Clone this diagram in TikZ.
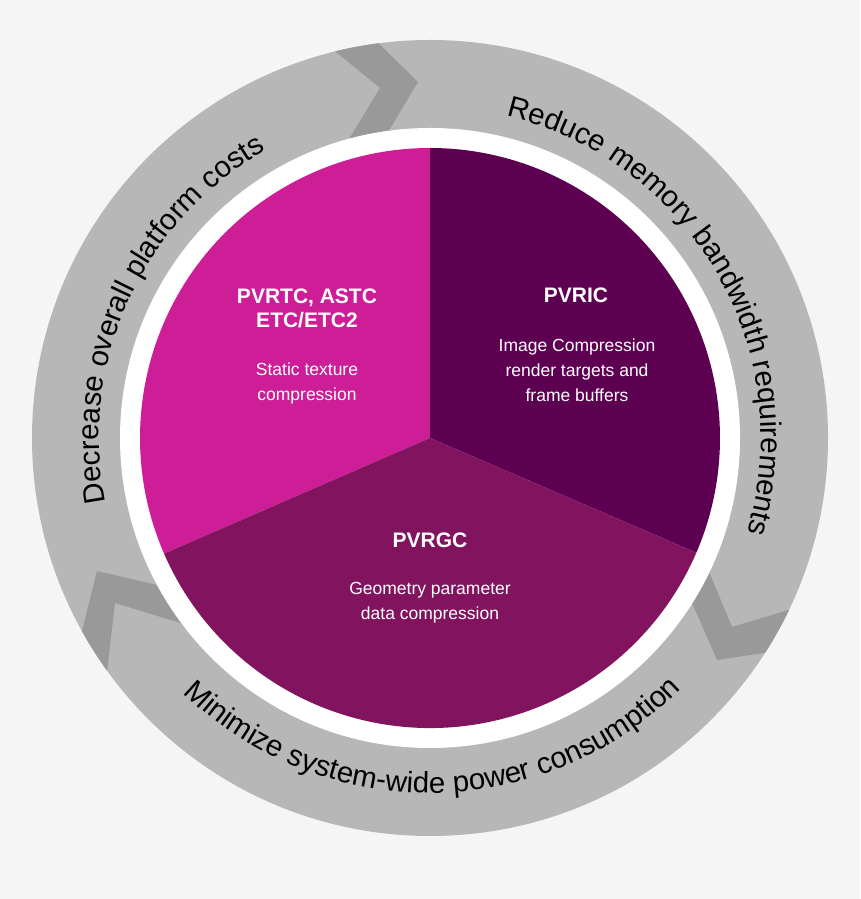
\documentclass[tikz,border=0pt]{standalone}
\usepackage{fontspec}
\setmainfont{Liberation Sans}
\usetikzlibrary{decorations.text}
\definecolor{bg}{HTML}{F5F5F5}
\definecolor{ring}{HTML}{B7B7B7}
\definecolor{chev}{HTML}{999999}
\definecolor{magA}{HTML}{CD1E98}
\definecolor{magB}{HTML}{5D0052}
\definecolor{magC}{HTML}{82145F}
\begin{document}
\begin{tikzpicture}[x=1pt,y=1pt,
  ttl/.style={text=white,font=\fontsize{21}{25}\selectfont\bfseries,align=center},
  body/.style={text=white,font=\fontsize{17.5}{25}\selectfont,align=center},
  arctext/.style={decorate,decoration={text along path,text align=center,
     text={|\fontsize{29.5}{30}\selectfont|#1}}}]
\useasboundingbox (0,0) rectangle (860,899);
\fill[bg] (0,0) rectangle (860,899);
\coordinate (c) at (430,461);
% ring
\fill[ring] (c) circle[radius=398];
\begin{scope}
\clip (c) circle[radius=398];
\fill[chev] (320,860) -- (368,866) -- (418,817) -- (375,745) -- (340,745) -- (380,811) -- cycle;
\fill[chev] (97,328) -- (200,304) -- (200,270) -- (115,296) -- (105,210) -- (70,220) -- cycle;
\fill[chev] (702,344) -- (732,272) -- (805,294) -- (790,250) -- (717,239) -- (685,312) -- cycle;
\end{scope}
\fill[white] (c) circle[radius=310];
% pie
\fill[magA] (c) -- ++(90:290) arc[start angle=90,end angle=203.5,radius=290] -- cycle;
\fill[magB] (c) -- ++(-23.3:290) arc[start angle=-23.3,end angle=90,radius=290] -- cycle;
\fill[magC] (c) -- ++(203.5:290) arc[start angle=203.5,end angle=336.7,radius=290] -- cycle;
% texts
\node[ttl] (t1) at (307,591) {PVRTC, ASTC\\[-1pt]ETC/ETC2};
\node[body] (b1) at (307,516) {Static texture\\compression};
\node[ttl] (t2) at (576,604) {PVRIC};
\node[body] (b2) at (577,529) {Image Compression\\render targets and\\frame buffers};
\node[ttl] (t3) at (430,359) {PVRGC};
\node[body] (b3) at (430,296) {Geometry parameter\\data compression};
% ring labels
\path[arctext={Reduce memory bandwidth requirements}] (c) ++(82:331) arc[start angle=82,end angle=-22,radius=331];
\path[arctext={Decrease overall platform costs}] (c) ++(197:331) arc[start angle=197,end angle=114,radius=331];
\path[arctext={Minimize system-wide power consumption}] (c) ++(221:355) arc[start angle=221,end angle=320,radius=355];
\end{tikzpicture}
\end{document}
